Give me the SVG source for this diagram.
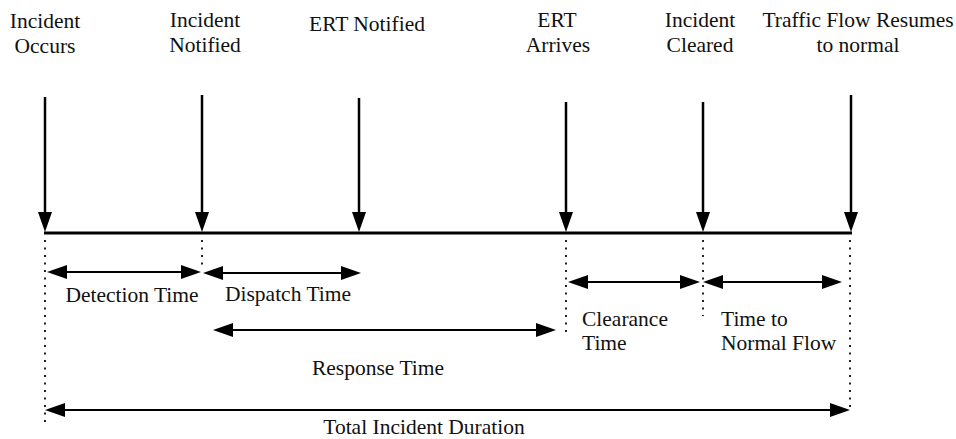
<svg xmlns="http://www.w3.org/2000/svg" width="956" height="439" viewBox="0 0 956 439">
<style>
text{font-family:"Liberation Serif","Times New Roman",serif;font-size:21.5px;fill:#111}
.c{text-anchor:middle}
.v{stroke:#000;stroke-width:2.5;fill:none;marker-end:url(#ah)}
.d{stroke:#000;stroke-width:2.2;fill:none;marker-start:url(#ah);marker-end:url(#ah)}
.dot{stroke:#222;stroke-width:2;stroke-dasharray:2 5.5;fill:none}
</style>
<defs>
<marker id="ah" markerUnits="userSpaceOnUse" markerWidth="21" markerHeight="15" refX="0" refY="7" orient="auto-start-reverse" viewBox="0 0 21 14" overflow="visible">
<path d="M0,0 L20,7 L0,14 Z" fill="#000"/>
</marker>
</defs>
<g id="axis">
<line x1="44" y1="233" x2="852" y2="233" stroke="#000" stroke-width="3"/>
</g>
<g id="connectors">
<line class="v" x1="45" y1="97" x2="45" y2="212"/>
<line class="v" x1="202" y1="95" x2="202" y2="212"/>
<line class="v" x1="359" y1="98" x2="359" y2="212"/>
<line class="v" x1="566" y1="102" x2="566" y2="212"/>
<line class="v" x1="703" y1="102" x2="703" y2="212"/>
<line class="v" x1="851" y1="95" x2="851" y2="212"/>
<line class="dot" x1="45" y1="240" x2="45" y2="425"/>
<line class="dot" x1="202" y1="240" x2="202" y2="270"/>
<line class="dot" x1="566" y1="240" x2="566" y2="333"/>
<line class="dot" x1="703" y1="240" x2="703" y2="316"/>
<line class="dot" x1="850" y1="240" x2="850" y2="409"/>
<line class="d" x1="67" y1="272" x2="181" y2="272"/>
<line class="d" x1="223" y1="273" x2="341" y2="273"/>
<line class="d" x1="233" y1="330" x2="536" y2="330"/>
<line class="d" x1="588" y1="282" x2="680" y2="282"/>
<line class="d" x1="723" y1="282" x2="822" y2="282"/>
<line class="d" x1="65" y1="410" x2="830" y2="410"/>
</g>
<g id="incident-occurs"><text class="c" x="45" y="28">Incident</text><text class="c" x="45" y="53">Occurs</text></g>
<g id="incident-notified"><text class="c" x="205" y="27">Incident</text><text class="c" x="205" y="52">Notified</text></g>
<g id="ert-notified"><text class="c" x="367" y="31">ERT Notified</text></g>
<g id="ert-arrives"><text class="c" x="557" y="27">ERT</text><text class="c" x="558" y="52">Arrives</text></g>
<g id="incident-cleared"><text class="c" x="700" y="27">Incident</text><text class="c" x="700" y="52">Cleared</text></g>
<g id="traffic-flow"><text class="c" x="858" y="27">Traffic Flow Resumes</text><text class="c" x="858" y="52">to normal</text></g>
<g id="detection-time"><text class="c" x="132" y="302">Detection Time</text></g>
<g id="dispatch-time"><text class="c" x="288" y="301">Dispatch Time</text></g>
<g id="response-time"><text class="c" x="378" y="375">Response Time</text></g>
<g id="clearance-time"><text x="582" y="326">Clearance</text><text x="582" y="350">Time</text></g>
<g id="time-to-normal"><text x="721" y="326">Time to</text><text x="721" y="350">Normal Flow</text></g>
<g id="total-duration"><text class="c" x="424" y="434">Total Incident Duration</text></g>
</svg>
